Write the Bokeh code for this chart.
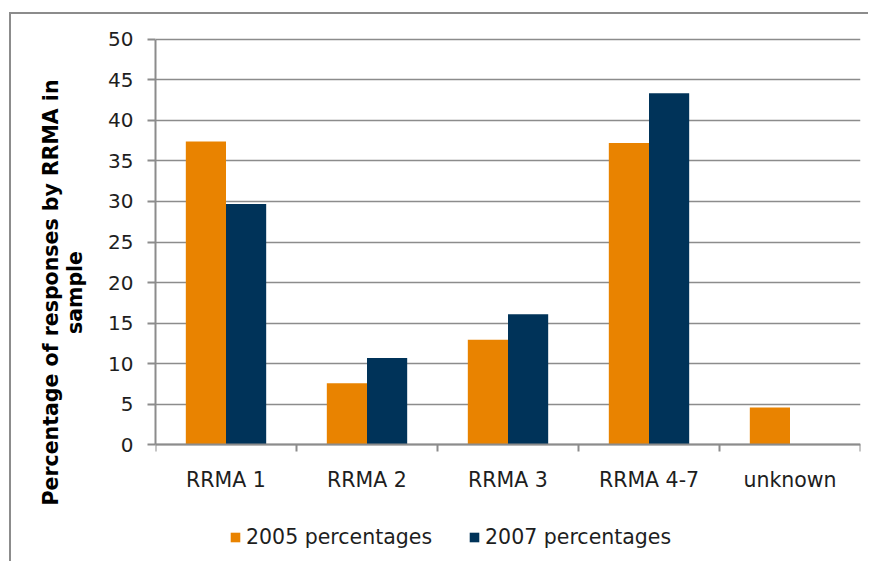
import numpy as np
from bokeh.plotting import figure
from bokeh.models import FixedTicker, Legend, LegendItem, LinearAxis, Range1d
from bokeh.embed import file_html
from bokeh.resources import INLINE

# Share of survey responses per RRMA region, by survey year
categories = ["RRMA 1", "RRMA 2", "RRMA 3", "RRMA 4-7", "unknown"]
pct_2005 = [37.4, 7.6, 12.95, 37.2, 4.6]
pct_2007 = [29.7, 10.7, 16.1, 43.35, np.nan]
series_names = ["2005 percentages", "2007 percentages"]
series_colors = ["#E98300", "#003359"]
y_ticks = [0, 5, 10, 15, 20, 25, 30, 35, 40, 45, 50]
y_title = "Percentage of responses by RRMA in\nsample"

FONT = "DejaVu Sans"
TEXT = "#1e1e1e"
GRID = "#8c8c8c"

n = len(categories)
centers = np.arange(n) + 0.5
bar_w = 0.285

# the frame runs down to the bottom edge; the space under zero holds
# the category labels and the legend
p = figure(width=859, height=549, output_backend="svg", toolbar_location=None,
           x_range=Range1d(0, n), y_range=Range1d(-14.62, 52.18),
           min_border_left=144, min_border_right=10,
           min_border_top=7, min_border_bottom=0,
           x_axis_location=None)
p.styles = {"margin-left": "9px", "margin-top": "12px",
            "border-left": f"2px solid {GRID}", "border-top": f"2px solid {GRID}"}
p.outline_line_color = None
p.background_fill_color = "white"
p.border_fill_color = "white"

r05 = p.vbar(x=centers - bar_w / 2, top=pct_2005, width=bar_w,
             fill_color=series_colors[0], line_color=None)
r07 = p.vbar(x=centers + bar_w / 2, top=pct_2007, width=bar_w,
             fill_color=series_colors[1], line_color=None)

# x axis pinned at zero: category names at centres, ticks at boundaries
xax = LinearAxis(fixed_location=0,
                 ticker=FixedTicker(ticks=list(centers), minor_ticks=list(range(n + 1))),
                 major_label_overrides={float(c): lab for c, lab in zip(centers, categories)})
xax.major_tick_line_color = None
xax.major_tick_out = 0
xax.major_tick_in = 0
xax.minor_tick_line_color = GRID
xax.minor_tick_line_width = 2
xax.minor_tick_out = 7
xax.minor_tick_in = 0
xax.axis_line_color = GRID
xax.axis_line_width = 2
xax.major_label_text_font = FONT
xax.major_label_text_font_size = "20.5px"
xax.major_label_text_color = TEXT
xax.major_label_standoff = 16
p.add_layout(xax, "below")
p.xgrid.grid_line_color = None

# y axis with a two-line bold title
p.yaxis.bounds = (0, 50)
p.yaxis.ticker = FixedTicker(ticks=y_ticks)
p.yaxis.axis_line_color = GRID
p.yaxis.axis_line_width = 2
p.yaxis.major_tick_line_color = GRID
p.yaxis.major_tick_line_width = 2
p.yaxis.major_tick_out = 8
p.yaxis.major_tick_in = 0
p.yaxis.minor_tick_line_color = None
p.yaxis.major_label_text_font = FONT
p.yaxis.major_label_text_font_size = "20px"
p.yaxis.major_label_text_color = TEXT
p.yaxis.major_label_standoff = 14
p.yaxis.axis_label = y_title
p.yaxis.axis_label_text_font = FONT
p.yaxis.axis_label_text_font_style = "bold"
p.yaxis.axis_label_text_font_size = "20.5px"
p.yaxis.axis_label_text_line_height = 1.0
p.yaxis.axis_label_text_color = "#000000"
p.yaxis.axis_label_standoff = 18
p.ygrid.grid_line_color = GRID
p.ygrid.grid_line_width = 1.6

legend = Legend(items=[LegendItem(label=series_names[0], renderers=[r05]),
                       LegendItem(label=series_names[1], renderers=[r07])],
                orientation="horizontal", location=(74, 14),
                glyph_width=12, glyph_height=12, label_standoff=5, spacing=36,
                label_text_font=FONT, label_text_font_size="20.5px",
                label_text_color=TEXT, border_line_color=None,
                background_fill_alpha=0, padding=0, margin=0)
p.add_layout(legend)

open("out.html", "w").write(file_html(p, INLINE))
